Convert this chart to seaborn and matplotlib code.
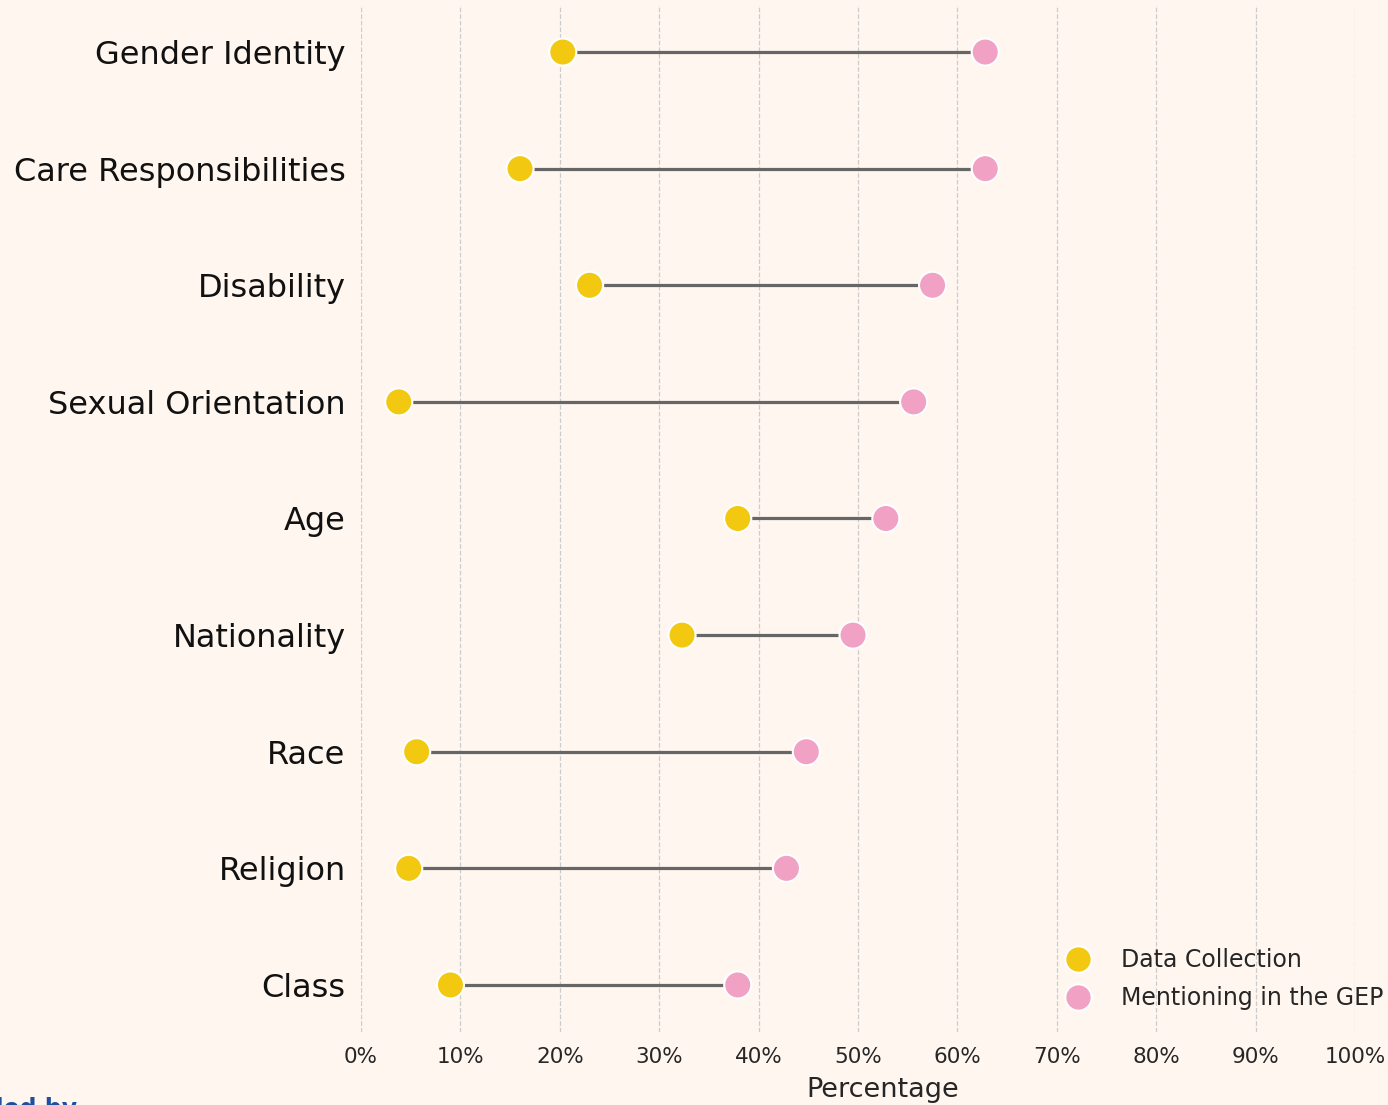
import matplotlib
matplotlib.use("Agg")
import matplotlib.pyplot as plt
import pandas as pd
import seaborn as sns
from matplotlib.ticker import PercentFormatter

categories = ["Gender Identity", "Care Responsibilities", "Disability", "Sexual Orientation",
              "Age", "Nationality", "Race", "Religion", "Class"]
data_collection = [20.3, 16.0, 23.0, 3.8, 37.9, 32.3, 5.6, 4.8, 9.0]
mentioning_gep = [62.8, 62.8, 57.5, 55.6, 52.8, 49.5, 44.8, 42.8, 37.9]
series_names = ["Data Collection", "Mentioning in the GEP"]

bg = "#fff6f0"
colors = {"Data Collection": "#f2c811", "Mentioning in the GEP": "#f0a1c4"}

df = pd.DataFrame({"category": categories, series_names[0]: data_collection,
                   series_names[1]: mentioning_gep})
long = df.melt(id_vars="category", var_name="series", value_name="value")

sns.set_style("white")
fig = plt.figure(figsize=(13.88, 11.05), dpi=100, facecolor=bg)
ax = fig.add_axes([361 / 1388, 1 - 1031.6 / 1105, (1355 - 361) / 1388, (1031.6 - 5.4) / 1105])
ax.set_facecolor(bg)

# connecting lines first
ypos = range(len(categories))
ax.hlines(list(ypos), df[series_names[0]], df[series_names[1]], color="#666666", lw=2.3, zorder=1)

sns.scatterplot(data=long, x="value", y="category", hue="series", palette=colors,
                s=380, edgecolor="white", linewidth=1.5, zorder=3, ax=ax)

ax.set_xlim(0, 100)
ax.set_ylim(len(categories) - 1 + 0.4, -0.4)
ax.set_xticks(range(0, 101, 10))
ax.xaxis.set_major_formatter(PercentFormatter(decimals=0))
ax.grid(axis="x", linestyle="--", color="#cccccc", lw=0.9)
ax.grid(axis="y", visible=False)
for s in ax.spines.values():
    s.set_visible(False)
ax.tick_params(axis="y", labelsize=23, length=5, width=0.8, color="#333333", pad=6)
ax.tick_params(axis="x", labelsize=15.5, length=5, width=0.8, color="#333333", pad=6)
for lbl in ax.get_yticklabels():
    lbl.set_color("#111111")
ax.set_xlabel("Percentage", fontsize=19.5)
ax.xaxis.set_label_coords(0.525, -0.044)
ax.set_ylabel("")

leg = ax.legend(loc="lower right", frameon=False, fontsize=17,
                handletextpad=0.83, bbox_to_anchor=(1.05, 0.0), labelspacing=0.6)
for h in leg.legend_handles:
    h.set_markersize(19)
    h.set_markeredgecolor("white")

fig.text(-0.045, 1 - 1097 / 1105, "Funded by", color="#1f50a0", fontsize=17,
         fontweight="bold", va="top", ha="left")

fig.savefig("out.png", dpi=100, facecolor=bg)
